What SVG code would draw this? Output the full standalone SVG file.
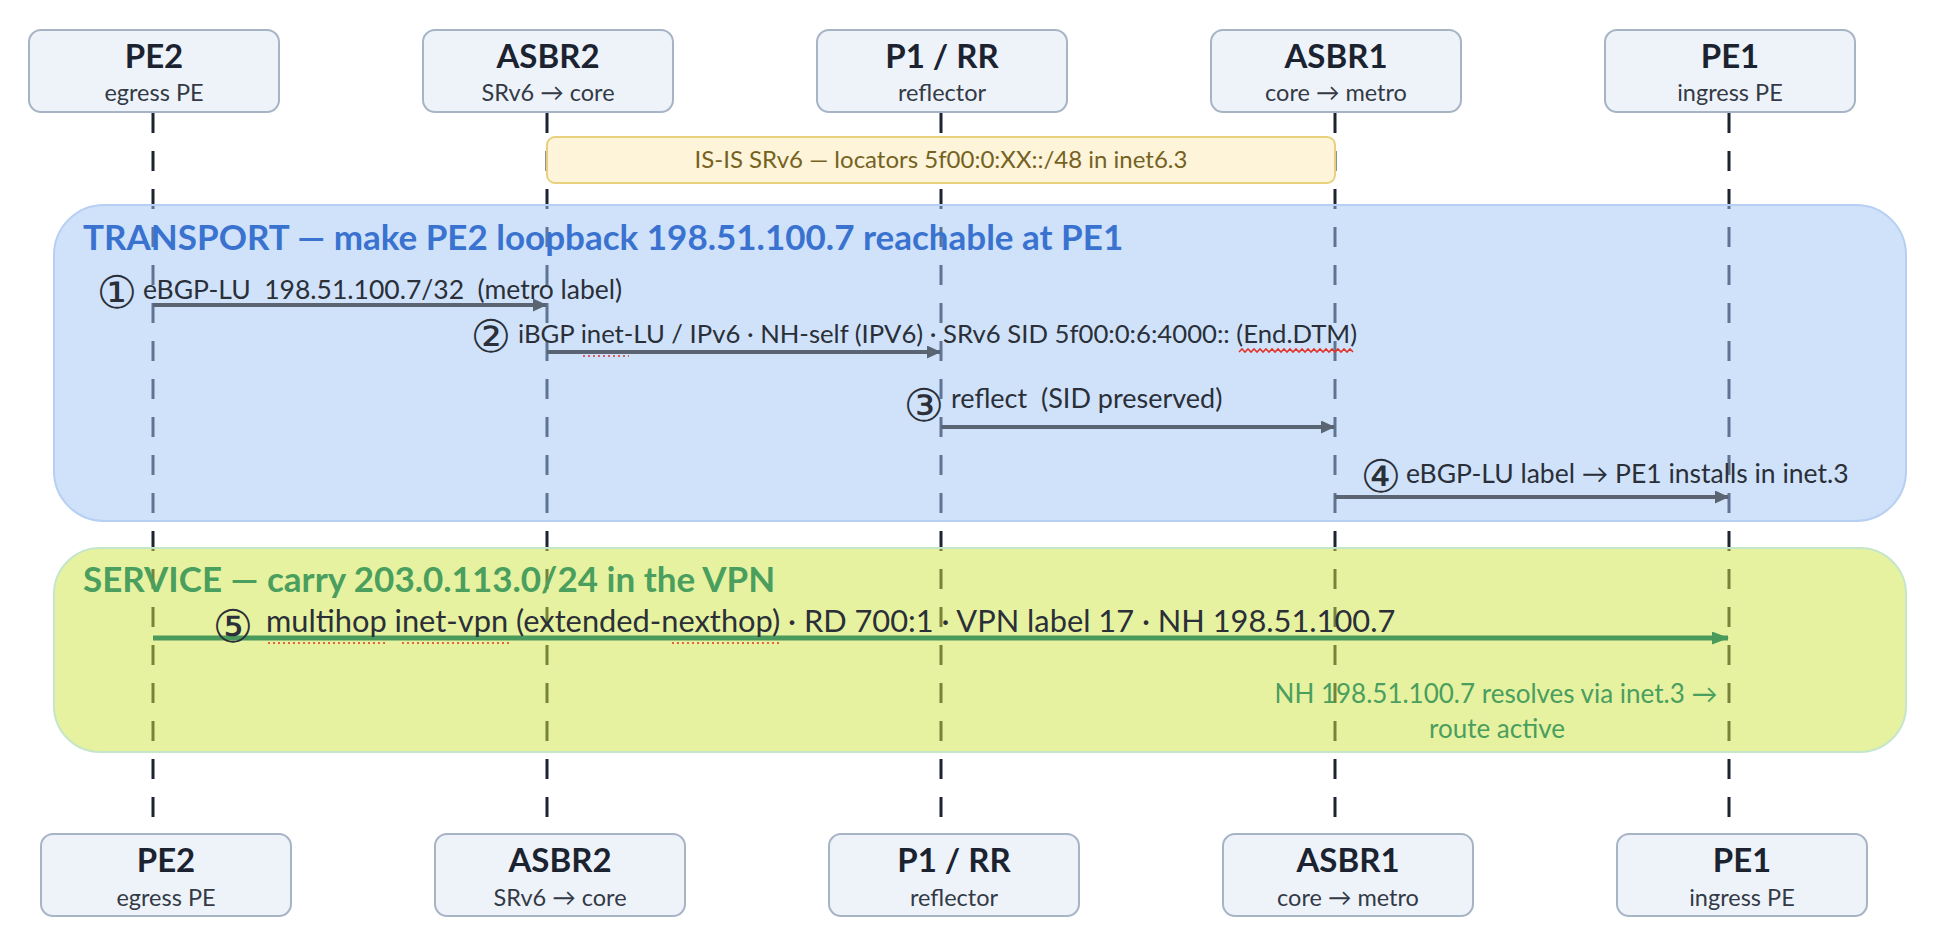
<svg xmlns="http://www.w3.org/2000/svg" width="1952" height="946" viewBox="0 0 1952 946">
<defs>
<style>
.box{fill:#eef3fa;stroke:#a7b4c5;stroke-width:2}
.ttl{font-family:Lato,"Open Sans",sans-serif;font-weight:700;font-size:33px;fill:#1b2230;text-anchor:middle}
.sub{font-family:Lato,"Open Sans",sans-serif;font-size:23.5px;fill:#333a46;text-anchor:middle}
.life{stroke:#1e2331;stroke-width:3;stroke-dasharray:20 18;fill:none}
.msg{font-family:Lato,"Open Sans",sans-serif;font-size:26.5px;fill:#2a2f38;white-space:pre}
.num{font-family:"DejaVu Sans",sans-serif;font-size:45px;fill:#2a2f38;text-anchor:middle}
.arr{stroke:#5b6472;stroke-width:4;fill:none}
.garr{stroke:#4a9a5c;stroke-width:5;fill:none}
.band-t{fill:#9fc5f5;fill-opacity:0.5;stroke:#b6cff3;stroke-width:2}
.band-s{fill:#cde541;fill-opacity:0.5;stroke:#c6e6cc;stroke-width:2}
.spell{stroke:#e0352b;stroke-width:1.6;fill:none}
.gtxt{font-family:Lato,"Open Sans",sans-serif;font-size:26px;fill:#4a9e5e;text-anchor:middle}
</style>
<marker id="ah" viewBox="0 0 14 13" refX="13" refY="6.5" markerWidth="14" markerHeight="13" markerUnits="userSpaceOnUse" orient="auto">
<path d="M0,0 L14,6.5 L0,13 z" fill="#5b6472"/>
</marker>
<marker id="gah" viewBox="0 0 17 13" refX="16" refY="6.5" markerWidth="17" markerHeight="13" markerUnits="userSpaceOnUse" orient="auto">
<path d="M0,0 L17,6.5 L0,13 z" fill="#4a9a5c"/>
</marker>
</defs>
<rect width="1952" height="946" fill="#ffffff"/>

<g id="lifelines">
<line class="life" x1="153" y1="113" x2="153" y2="834"/>
<line class="life" x1="547" y1="113" x2="547" y2="834"/>
<line class="life" x1="941" y1="113" x2="941" y2="834"/>
<line class="life" x1="1335" y1="113" x2="1335" y2="834"/>
<line class="life" x1="1729" y1="113" x2="1729" y2="834"/>
</g>

<g id="isis">
<rect x="547" y="137" width="788" height="46" rx="8" fill="#fdf4d9" stroke="#e9d07c" stroke-width="2"/>
<text x="941" y="168" font-family="Lato,'Open Sans',sans-serif" font-size="24" fill="#76621f" text-anchor="middle">IS-IS SRv6 — locators 5f00:0:XX::/48 in inet6.3</text>
</g>

<g id="transport">
<rect class="band-t" x="54" y="205" width="1852" height="316" rx="50"/>
<text x="83" y="250" font-family="Lato,'Open Sans',sans-serif" font-weight="700" font-size="35" fill="#3a72d0">TRANSPORT — make PE2 loopback 198.51.100.7 reachable at PE1</text>
</g>

<g id="service">
<rect class="band-s" x="54" y="548" width="1852" height="204" rx="46"/>
<text x="83" y="592" font-family="Lato,'Open Sans',sans-serif" font-weight="700" font-size="35" fill="#4a9e5e">SERVICE — carry 203.0.113.0/24 in the VPN</text>
<text class="gtxt" x="1496" y="703">NH 198.51.100.7 resolves via inet.3 →</text>
<text class="gtxt" x="1497" y="738">route active</text>
</g>

<g id="connectors">
<line class="arr" x1="153" y1="305" x2="546" y2="305" marker-end="url(#ah)"/>
<line class="arr" x1="547" y1="352" x2="940" y2="352" marker-end="url(#ah)"/>
<line class="arr" x1="941" y1="427" x2="1334" y2="427" marker-end="url(#ah)"/>
<line class="arr" x1="1335" y1="497" x2="1728" y2="497" marker-end="url(#ah)"/>
<line class="garr" x1="153" y1="638" x2="1728" y2="638" marker-end="url(#gah)"/>
</g>

<g id="labels">
<text class="num" x="117" y="308">①</text>
<text class="msg" x="143" y="299">eBGP-LU  198.51.100.7/32  (metro label)</text>
<text class="num" x="491" y="352">②</text>
<text class="msg" x="518" y="343" style="font-size:25.7px">iBGP inet-LU / IPv6 · NH-self (IPV6) · SRv6 SID 5f00:0:6:4000:: (End.DTM)</text>
<text class="num" x="924" y="421">③</text>
<text class="msg" x="951" y="408" style="font-size:27px">reflect  (SID preserved)</text>
<text class="num" x="1381" y="492">④</text>
<text class="msg" x="1406" y="483">eBGP-LU label → PE1 installs in inet.3</text>
<text class="num" x="233" y="642">⑤</text>
<text class="msg" x="266" y="632" style="font-size:30.8px">multihop inet-vpn (extended-nexthop) · RD 700:1 · VPN label 17 · NH 198.51.100.7</text>
</g>

<g id="spellcheck">
<line class="spell" x1="583" y1="356" x2="629" y2="356" stroke-dasharray="2 3"/>
<path class="spell" d="M1239,352 l3,-3 l3,3 l3,-3 l3,3 l3,-3 l3,3 l3,-3 l3,3 l3,-3 l3,3 l3,-3 l3,3 l3,-3 l3,3 l3,-3 l3,3 l3,-3 l3,3 l3,-3 l3,3 l3,-3 l3,3 l3,-3 l3,3 l3,-3 l3,3 l3,-3 l3,3 l3,-3 l3,3 l3,-3 l3,3 l3,-3 l3,3 l3,-3 l3,3 l3,-3 l3,3"/>
<line class="spell" x1="268" y1="643" x2="388" y2="643" stroke-dasharray="2 3"/>
<line class="spell" x1="402" y1="643" x2="511" y2="643" stroke-dasharray="2 3"/>
<line class="spell" x1="672" y1="643" x2="782" y2="643" stroke-dasharray="2 3"/>
</g>

<g id="node-PE2-top"><rect class="box" x="29" y="30" width="250" height="82" rx="12"/><text class="ttl" x="154" y="68">PE2</text><text class="sub" x="154" y="101">egress PE</text></g>
<g id="node-ASBR2-top"><rect class="box" x="423" y="30" width="250" height="82" rx="12"/><text class="ttl" x="548" y="68">ASBR2</text><text class="sub" x="548" y="101">SRv6 → core</text></g>
<g id="node-P1RR-top"><rect class="box" x="817" y="30" width="250" height="82" rx="12"/><text class="ttl" x="942" y="68">P1 / RR</text><text class="sub" x="942" y="101">reflector</text></g>
<g id="node-ASBR1-top"><rect class="box" x="1211" y="30" width="250" height="82" rx="12"/><text class="ttl" x="1336" y="68">ASBR1</text><text class="sub" x="1336" y="101">core → metro</text></g>
<g id="node-PE1-top"><rect class="box" x="1605" y="30" width="250" height="82" rx="12"/><text class="ttl" x="1730" y="68">PE1</text><text class="sub" x="1730" y="101">ingress PE</text></g>

<g id="node-PE2-bottom"><rect class="box" x="41" y="834" width="250" height="82" rx="12"/><text class="ttl" x="166" y="872">PE2</text><text class="sub" x="166" y="906">egress PE</text></g>
<g id="node-ASBR2-bottom"><rect class="box" x="435" y="834" width="250" height="82" rx="12"/><text class="ttl" x="560" y="872">ASBR2</text><text class="sub" x="560" y="906">SRv6 → core</text></g>
<g id="node-P1RR-bottom"><rect class="box" x="829" y="834" width="250" height="82" rx="12"/><text class="ttl" x="954" y="872">P1 / RR</text><text class="sub" x="954" y="906">reflector</text></g>
<g id="node-ASBR1-bottom"><rect class="box" x="1223" y="834" width="250" height="82" rx="12"/><text class="ttl" x="1348" y="872">ASBR1</text><text class="sub" x="1348" y="906">core → metro</text></g>
<g id="node-PE1-bottom"><rect class="box" x="1617" y="834" width="250" height="82" rx="12"/><text class="ttl" x="1742" y="872">PE1</text><text class="sub" x="1742" y="906">ingress PE</text></g>
</svg>
